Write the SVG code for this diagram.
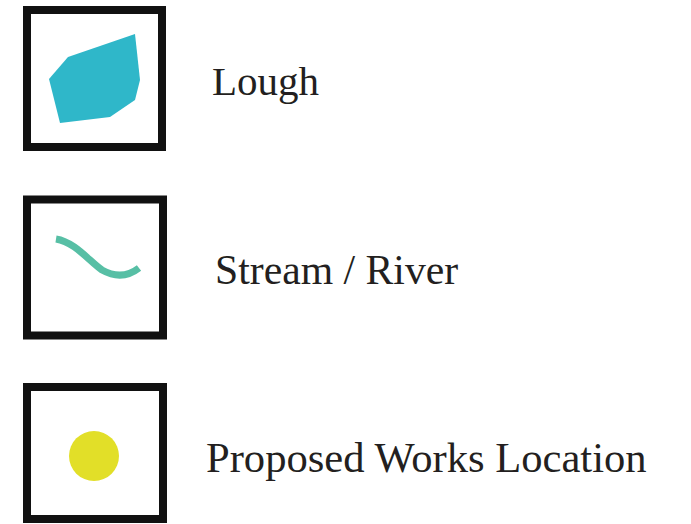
<svg xmlns="http://www.w3.org/2000/svg" width="691" height="524" viewBox="0 0 691 524">
<style>
.box{fill:#ffffff;stroke:#111111;stroke-width:8}
.lbl{font-family:"Liberation Serif","Times New Roman",serif;fill:#231f20}
</style>
<rect width="691" height="524" fill="#ffffff"/>
<g id="lough">
<rect class="box" x="27" y="10" width="135" height="137"/>
<polygon points="49,79 68,57 135,34 140,80 135,100 110,117 60,123" fill="#2fb7c9"/>
<text class="lbl" x="212" y="95" font-size="41">Lough</text>
</g>
<g id="stream">
<rect class="box" x="27" y="199.5" width="136" height="136"/>
<path d="M56,239 C75,242 90,262 102,270 C118,279 130,275 139,268" fill="none" stroke="#57bfa5" stroke-width="7" stroke-linecap="butt"/>
<text class="lbl" x="215" y="284" font-size="41.7">Stream / River</text>
</g>
<g id="works">
<rect class="box" x="27" y="387" width="136" height="132"/>
<circle cx="94" cy="456" r="25" fill="#e2df28"/>
<text class="lbl" x="206" y="472" font-size="42.6">Proposed Works Location</text>
</g>
</svg>
